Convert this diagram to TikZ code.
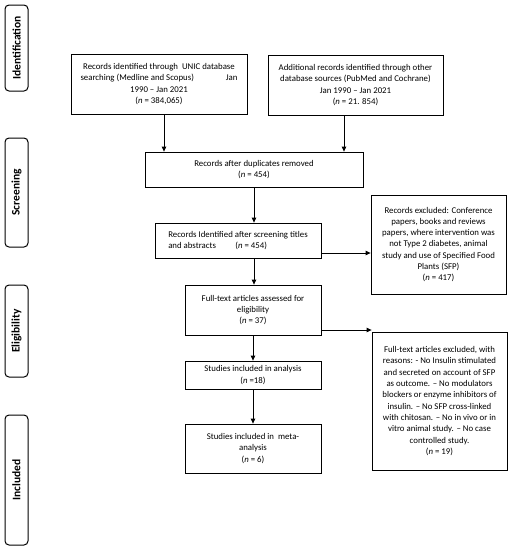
\documentclass[tikz,border=0pt]{standalone}
\usepackage{fontspec}
\setmainfont{Carlito}
\usetikzlibrary{arrows.meta}
\begin{document}
\begin{tikzpicture}[x=1pt,y=-1pt,
  box/.style={draw=black,line width=0.8pt,align=center,inner sep=1pt,
    font=\fontsize{8.8}{11.3}\selectfont},
  side/.style={draw=black,line width=1pt,rounded corners=4pt,rotate=90,
    inner sep=0pt,minimum height=23pt,font=\fontsize{11.5}{13}\selectfont\bfseries},
  arr/.style={line width=0.8pt,-{Triangle[length=5pt,width=4.5pt]}}]
\useasboundingbox (0,0) rectangle (510,550);
% side labels
\node[side,minimum width=86pt] (sid) at (16.5,48) {Identification};
\node[side,minimum width=109pt] (ssc) at (16.5,192.5) {Screening};
\node[side,minimum width=92pt] (sel) at (16.5,331) {Eligibility};
\node[side,minimum width=130pt] (sin) at (16.5,480) {Included};
% boxes
\node[box,minimum width=176pt,minimum height=60pt] (b1) at (159,84)
  {Records identified through\ \ UNIC database\\
   \hbox to 157pt{searching (Medline and Scopus)\hfill Jan}\\
   1990 – Jan 2021\\ (\textit{n} = 384,065)};
\node[box,minimum width=175pt,minimum height=60pt] (b2) at (355.5,85)
  {Additional records identified through other\\
   database sources (PubMed and Cochrane)\\
   Jan 1990 – Jan 2021\\ (\textit{n} = 21. 854)};
\node[box,minimum width=218pt,minimum height=35pt] (b3) at (254,169.5)
  {Records after duplicates removed\\ (\textit{n} = 454)};
\node[box,minimum width=166pt,minimum height=35pt,align=left] (b4) at (238,240.5)
  {Records Identified after screening titles\\
   and abstracts\hspace{2.2em}(\textit{n} = 454)};
\node[box,minimum width=135pt,minimum height=99pt] (e1) at (438.5,244.5)
  {Records excluded: Conference\\ papers, books and reviews\\
   papers, where intervention was\\ not Type 2 diabetes, animal\\
   study and use of Specified Food\\ Plants (SFP)\\ (\textit{n} = 417)};
\node[box,minimum width=136pt,minimum height=50pt] (b5) at (253,310)
  {Full-text articles assessed for\\ eligibility\\ (\textit{n} = 37)};
\node[box,minimum width=135pt,minimum height=138pt] (e2) at (439.5,401)
  {Full-text articles excluded, with\\ reasons: - No Insulin stimulated\\
   and secreted on account of SFP\\ as outcome. – No modulators\\
   blockers or enzyme inhibitors of\\ insulin. – No SFP cross-linked\\
   with chitosan. – No in vivo or in\\ vitro animal study. – No case\\
   controlled study.\\ (\textit{n} = 19)};
\node[box,minimum width=136pt,minimum height=28pt] (b6) at (253,375)
  {Studies included in analysis\\ (\textit{n} =18)};
\node[box,minimum width=136pt,minimum height=49pt] (b7) at (253,448.5)
  {Studies included in\ \ meta-\\ analysis\\ (\textit{n} = 6)};
% connectors
\draw[arr] ([xshift=5pt]b1.south) -- ([xshift=5pt]b1.south |- b3.north);
\draw[arr] ([xshift=-11.5pt]b2.south) -- ([xshift=-11.5pt]b2.south |- b3.north);
\draw[arr] (b3.south) -- (b3.south |- b4.north);
\draw[arr] ([xshift=16pt]b4.south) -- ([xshift=16pt]b4.south |- b5.north);
\draw[arr] ([yshift=-12.5pt]b4.east) -- ([yshift=-12.5pt]b4.east -| e1.west);
\draw[arr] ([yshift=-20pt]b5.east) -- ([yshift=-20pt]b5.east -| e2.west);
\draw[arr] (b5.south) -- (b6.north);
\draw[arr] (b6.south) -- (b7.north);
\end{tikzpicture}
\end{document}
